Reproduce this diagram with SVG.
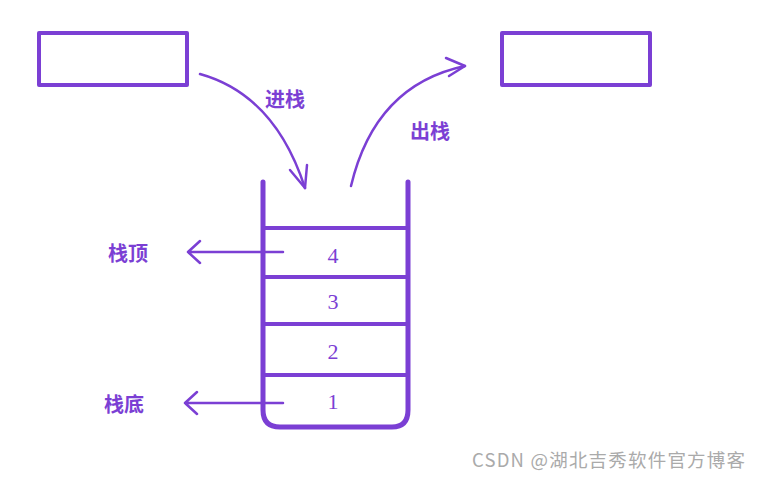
<svg xmlns="http://www.w3.org/2000/svg" width="759" height="478" viewBox="0 0 759 478">
<style>
.s{stroke:#7b3fd4;fill:none;stroke-linecap:round;stroke-linejoin:round}
.w{stroke-width:5}
.t{stroke-width:2.5}
.lab{font-family:"Noto Sans CJK SC",sans-serif;font-weight:bold;font-size:20px;fill:#7b3fd4}
.num{font-family:"Liberation Serif",serif;font-size:22px;fill:#7b3fd4;text-anchor:middle}
</style>
<rect width="759" height="478" fill="#fff"/>
<g id="box-left"><rect class="s" style="stroke-width:4" x="39" y="33" width="148" height="52"/></g>
<g id="box-right"><rect class="s" style="stroke-width:4" x="502" y="33" width="148" height="52"/></g>
<g id="stack">
<path class="s w" d="M263 182 V410 Q263 427 280 427 H392 Q408 427 408 410 V182"/>
<path class="s" style="stroke-width:4" d="M263 228 H408 M263 277 H408 M263 324 H408 M263 375 H408"/>
<text class="num" x="333" y="263">4</text>
<text class="num" x="333" y="309">3</text>
<text class="num" x="333" y="359">2</text>
<text class="num" x="333" y="409">1</text>
</g>
<g id="connectors">
<path class="s t" d="M200 74 Q275 95 305 188"/>
<path class="s t" d="M290 170 L305 188 L307 165"/>
<path class="s t" d="M351 186 Q375 85 465 66"/>
<path class="s t" d="M446 58 L465 66 L449 76"/>
<path class="s t" d="M283 252 H188 M200 241 L188 252 L200 263"/>
<path class="s t" d="M283 403 H185 M197 392 L185 403 L197 414"/>
</g>
<g id="labels">
<text class="lab" x="265" y="107">进栈</text>
<text class="lab" x="410" y="139">出栈</text>
<text class="lab" x="108" y="261">栈顶</text>
<text class="lab" x="104" y="412">栈底</text>
</g>
<text x="472" y="467" font-family="'Noto Sans CJK SC',sans-serif" font-size="18.5" fill="#aaa" textLength="273" lengthAdjust="spacing">CSDN @湖北吉秀软件官方博客</text>
</svg>
